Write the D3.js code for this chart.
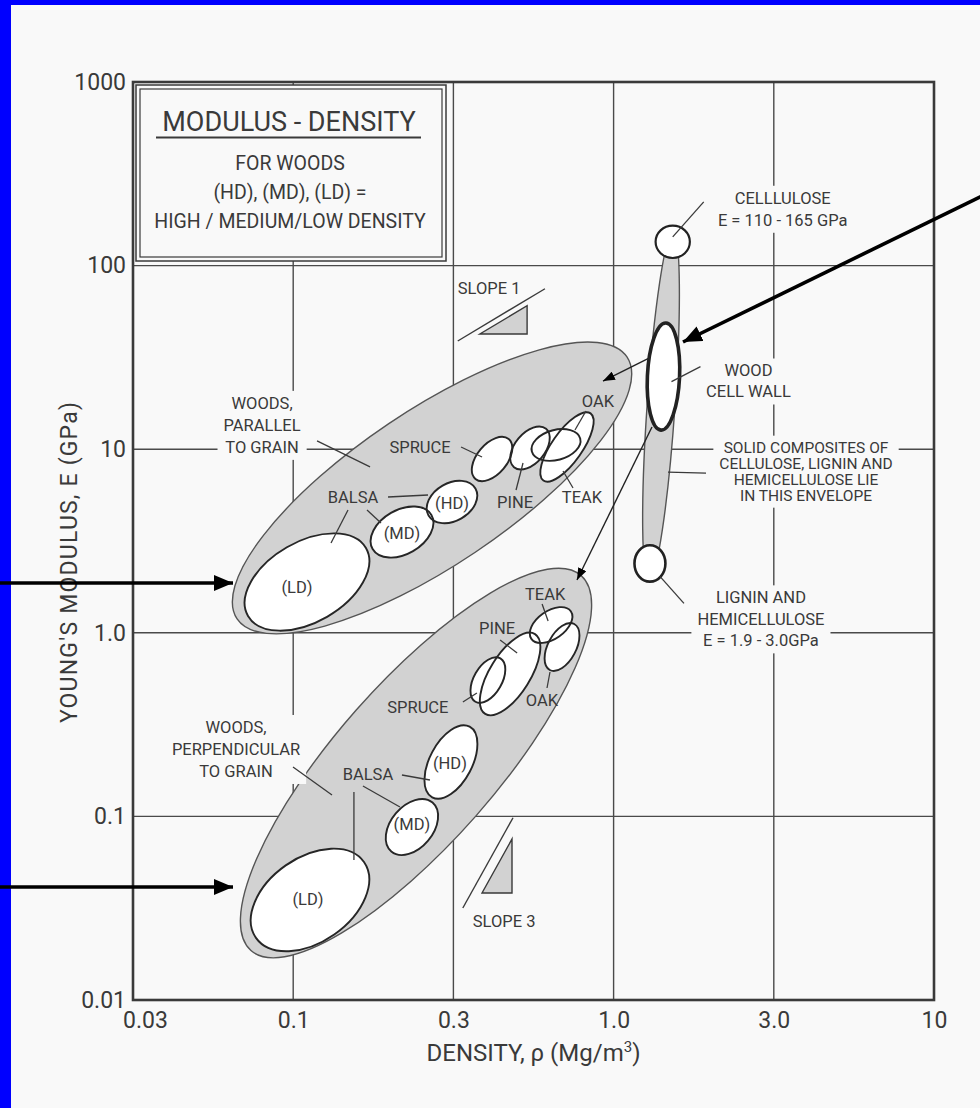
<!DOCTYPE html>
<html>
<head>
<meta charset="utf-8">
<script src="https://cdn.jsdelivr.net/npm/d3@7"></script>
<style>
  html, body { margin: 0; padding: 0; background: #f9f9f9; }
  svg { display: block; }
  text { font-family: Roboto, "Liberation Sans", sans-serif; fill: #3a3a3a; }
</style>
</head>
<body>
<svg id="chart" width="980" height="1108"></svg>
<script>
// ---- Axis ticks -------------------------------------------------------
const densityTicks = [0.03, 0.1, 0.3, 1, 3, 10];
const densityTickLabels = ["0.03", "0.1", "0.3", "1.0", "3.0", "10"];
const modulusTicks = [0.01, 0.1, 1, 10, 100, 1000];
const modulusTickLabels = ["0.01", "0.1", "1.0", "10", "100", "1000"];

// ---- Wood species (same order in both grain directions) ---------------
const woodNames = ["Balsa (LD)", "Balsa (MD)", "Balsa (HD)", "Spruce", "Pine", "Teak", "Oak"];
// each bubble: ends of its long axis as [density Mg/m3, modulus GPa]
const parallelEnds = [
  [[0.0712, 1.234], [0.1647, 2.897]],
  [[0.1724, 2.86], [0.258, 4.38]],
  [[0.253, 4.355], [0.354, 6.11]],
  [[0.354, 6.89], [0.4545, 11.35]],
  [[0.473, 7.98], [0.602, 12.92]],
  [[0.541, 9.72], [0.778, 11.44]],
  [[0.590, 6.75], [0.841, 15.67]]
];
const parallelWidth = [0.59, 0.65, 0.70, 0.58, 0.60, 0.60, 0.37];
const perpendicularEnds = [
  [[0.0756, 0.0218], [0.1625, 0.0564]],
  [[0.196, 0.0644], [0.260, 0.119]],
  [[0.2594, 0.127], [0.339, 0.308]],
  [[0.354, 0.421], [0.427, 0.726]],
  [[0.381, 0.362], [0.554, 0.984]],
  [[0.539, 0.927], [0.725, 1.311]],
  [[0.619, 0.627], [0.744, 1.117]]
];
const perpendicularWidth = [0.64, 0.66, 0.53, 0.56, 0.43, 0.58, 0.54];

// ---- Envelopes ---------------------------------------------------------
const envelopeNames = ["Woods, parallel", "Woods, perpendicular", "Solid composites"];
const envelopeEnds = [
  [[0.0656, 1.19], [1.096, 31.8]],
  [[0.0728, 0.0186], [0.783, 2.05]],
  [[1.275, 1.94], [1.503, 152]]
];
const envelopeWidth = [0.33, 0.32, 0.08];

// ---- Cell-wall constituents --------------------------------------------
const constituentNames = ["Cellulose", "Wood cell wall", "Lignin and hemicellulose"];
const constituentDensity = [[1.5, 1.5], [1.384, 1.432], [1.283, 1.283]];
const constituentModulus = [[110, 165], [12.7, 48.7], [1.9, 3.0]];
const constituentWidth = [1.06, 0.30, 0.85];
const constituentStroke = [2.2, 3.6, 2.6];

// ---- Slope guides --------------------------------------------------------
const slopeValues = [1, 3];
const slopeLineStart = [[0.31, 38.85], [0.322, 0.0317]];
const slopeLineEndDensity = [0.597, 0.4696];
const slopeTriangleBase = [[0.366, 42.4], [0.372, 0.0383]];
const slopeTriangleEndDensity = [0.522, 0.466];

// ---- Layout ----------------------------------------------------------------
const W = 980, H = 1108;
const plot = { left: 133, right: 934, top: 82, bottom: 1000 };
const ink = "#3a3a3a", gridInk = "#4a4a4a", shade = "#d2d2d2", paper = "#f9f9f9";

const svg = d3.select("#chart");
const defs = svg.append("defs");
function marker(id, len, wid) {
  defs.append("marker").attr("id", id)
    .attr("viewBox", `0 0 ${len} ${wid}`).attr("refX", len).attr("refY", wid / 2)
    .attr("markerUnits", "userSpaceOnUse").attr("markerWidth", len).attr("markerHeight", wid)
    .attr("orient", "auto")
    .append("path").attr("d", `M0,0L${len},${wid / 2}L0,${wid}Z`).attr("fill", "#000");
}
marker("bigHead", 19, 16);
marker("smallHead", 12, 9);

svg.append("rect").attr("width", W).attr("height", H).attr("fill", paper);

// Density axis: equally spaced tick marks, log-interpolated in between
const x = d3.scaleLog()
  .domain(densityTicks)
  .range(densityTicks.map((d, i) => plot.left + i * (plot.right - plot.left) / (densityTicks.length - 1)));
const y = d3.scaleLog()
  .domain([modulusTicks[0], modulusTicks[modulusTicks.length - 1]])
  .range([plot.bottom, plot.top]);

// ---- Grid ----------------------------------------------------------------
const grid = svg.append("g").attr("stroke", gridInk).attr("stroke-width", 1.4);
grid.selectAll("line.v").data(densityTicks.slice(1, -1)).join("line")
  .attr("x1", d => x(d)).attr("x2", d => x(d)).attr("y1", plot.top).attr("y2", plot.bottom);
grid.selectAll("line.h").data(modulusTicks.slice(1, -1)).join("line")
  .attr("y1", d => y(d)).attr("y2", d => y(d)).attr("x1", plot.left).attr("x2", plot.right);

// ---- Axes ----------------------------------------------------------------
const xAxis = svg.append("g").attr("transform", `translate(0,${plot.bottom})`)
  .call(d3.axisBottom(x).tickValues(densityTicks)
    .tickFormat((d, i) => densityTickLabels[i]).tickSize(0).tickPadding(12));
xAxis.select(".domain").remove();
xAxis.attr("font-size", 23).attr("font-family", null);
xAxis.selectAll(".tick text").filter((d, i) => i === 0).attr("dx", 12);

const yAxis = svg.append("g").attr("transform", `translate(${plot.left},0)`)
  .call(d3.axisLeft(y).tickValues(modulusTicks)
    .tickFormat((d, i) => modulusTickLabels[i]).tickSize(0).tickPadding(7));
yAxis.select(".domain").remove();
yAxis.attr("font-size", 23).attr("font-family", null);

svg.append("text").attr("x", (plot.left + plot.right) / 2 + 0).attr("y", 1061)
  .attr("text-anchor", "middle").attr("font-size", 24)
  .call(t => {
    t.append("tspan").text("DENSITY, ρ (Mg/m");
    t.append("tspan").attr("font-size", 15).attr("dy", -9).text("3");
    t.append("tspan").attr("dy", 9).text(")");
  });
svg.append("text").attr("transform", "translate(77,562) rotate(-90)")
  .attr("text-anchor", "middle").attr("font-size", 23).attr("letter-spacing", 1.2)
  .text("YOUNG'S MODULUS, E (GPa)");

// ---- Ellipse helpers -----------------------------------------------------
function geom(ends, ratio) {
  const [p, q] = ends.map(([r, e]) => [x(r), y(e)]);
  const cx = (p[0] + q[0]) / 2, cy = (p[1] + q[1]) / 2;
  const a = Math.hypot(q[0] - p[0], q[1] - p[1]) / 2;
  const ang = Math.atan2(q[1] - p[1], q[0] - p[0]) * 180 / Math.PI;
  return { cx, cy, rx: a, ry: a * ratio, ang };
}
function ellipses(g, list) {
  return g.selectAll("ellipse").data(list).join("ellipse")
    .attr("cx", d => d.cx).attr("cy", d => d.cy)
    .attr("rx", d => d.rx).attr("ry", d => d.ry)
    .attr("transform", d => `rotate(${d.ang} ${d.cx} ${d.cy})`);
}

const envGeom = envelopeEnds.map((e, i) => geom(e, envelopeWidth[i]));
const parGeom = parallelEnds.map((e, i) => geom(e, parallelWidth[i]));
const perpGeom = perpendicularEnds.map((e, i) => geom(e, perpendicularWidth[i]));
const conGeom = constituentNames.map((n, i) =>
  geom([[constituentDensity[i][0], constituentModulus[i][0]], [constituentDensity[i][1], constituentModulus[i][1]]], constituentWidth[i]));

// ---- Frame ---------------------------------------------------------------
svg.append("rect").attr("x", plot.left).attr("y", plot.top)
  .attr("width", plot.right - plot.left).attr("height", plot.bottom - plot.top)
  .attr("fill", "none").attr("stroke", ink).attr("stroke-width", 2.6);

// ---- Envelopes and bubbles ---------------------------------------------------
ellipses(svg.append("g").attr("fill", shade).attr("stroke", "#555").attr("stroke-width", 1.4), envGeom);

const bubbleFill = svg.append("g").attr("fill", "#fff").attr("stroke", "none");
ellipses(bubbleFill.append("g"), parGeom);
ellipses(bubbleFill.append("g"), perpGeom);
const bubbleLine = svg.append("g").attr("fill", "none").attr("stroke", "#262626").attr("stroke-width", 1.9);
ellipses(bubbleLine.append("g"), parGeom);
ellipses(bubbleLine.append("g"), perpGeom);

ellipses(svg.append("g").attr("fill", "#fff").attr("stroke", "#222"), conGeom)
  .attr("stroke-width", (d, i) => constituentStroke[i]);

// ---- Slope guides --------------------------------------------------------
const slopeG = svg.append("g");
slopeValues.forEach((s, i) => {
  const [r0, e0] = slopeLineStart[i];
  const r1 = slopeLineEndDensity[i];
  slopeG.append("line")
    .attr("x1", x(r0)).attr("y1", y(e0))
    .attr("x2", x(r1)).attr("y2", y(e0 * Math.pow(r1 / r0, s)))
    .attr("stroke", ink).attr("stroke-width", 1.4);
  const [tr0, te0] = slopeTriangleBase[i];
  const tr1 = slopeTriangleEndDensity[i];
  const pts = [[x(tr0), y(te0)], [x(tr1), y(te0)], [x(tr1), y(te0 * Math.pow(tr1 / tr0, s))]];
  slopeG.append("path").attr("d", d3.line()(pts) + "Z")
    .attr("fill", shade).attr("stroke", ink).attr("stroke-width", 1.4);
});
slopeG.append("text").attr("x", x(slopeLineStart[0][0])).attr("y", y(slopeLineStart[0][1]) - 47)
  .attr("font-size", 16.5).text("SLOPE 1");
slopeG.append("text").attr("x", x(slopeLineStart[1][0]) + 10).attr("y", y(slopeLineStart[1][1]) + 19)
  .attr("font-size", 16.5).text("SLOPE 3");

// ---- Annotations -----------------------------------------------------------
// 'at' is the middle of the first text line, offset from the anchor's centre
const parallelNotes = [
  { anchor: 0, lines: ["(LD)"], at: [-10, 5] },
  { anchor: 1, lines: ["(MD)"], at: [0, 1] },
  { anchor: 2, lines: ["(HD)"], at: [0, 1] },
  { anchor: 1, lines: ["BALSA"], at: [-49, -35], leaders: [[-14, -35, 26, -37], [-35, -22, -21, -9], [-54, -22, -71, 11]] },
  { anchor: 3, lines: ["SPRUCE"], at: [-72, -12], leaders: [[-31, -12, -10, -2]] },
  { anchor: 4, lines: ["PINE"], at: [-15, 54], leaders: [[-14, 42, -7, 15]] },
  { anchor: 5, lines: ["TEAK"], at: [26, 52], leaders: [[17, 43, 7, 26]] },
  { anchor: 6, lines: ["OAK"], at: [31, -46], leaders: [[19, -36, 8, -17]] }
];
const perpendicularNotes = [
  { anchor: 0, lines: ["(LD)"], at: [-2, -1] },
  { anchor: 1, lines: ["(MD)"], at: [0, -3] },
  { anchor: 2, lines: ["(HD)"], at: [-1, 1] },
  { anchor: 1, lines: ["BALSA"], at: [-44, -53], leaders: [[-10, -52, 18, -47], [-49, -41, -12, -20], [-58, -35, -58, 33]] },
  { anchor: 3, lines: ["SPRUCE"], at: [-70, 27], leaders: [[-25, 22, -11, 13]] },
  { anchor: 4, lines: ["PINE"], at: [-13, -46], leaders: [[-10, -34, 7, -21]] },
  { anchor: 5, lines: ["TEAK"], at: [-6, -31], leaders: [[-9, -21, -3, -4]] },
  { anchor: 6, lines: ["OAK"], at: [-20, 53], leaders: [[-15, 41, -12, 25]] }
];
const envelopeNotes = [
  { anchor: 0, lines: ["WOODS,", "PARALLEL", "TO GRAIN"], at: [-170, -85], gap: 22, knock: true,
    leaders: [[-115, -47, -62, -21]] },
  { anchor: 1, lines: ["WOODS,", "PERPENDICULAR", "TO GRAIN"], at: [-180, -36], gap: 22, knock: true,
    leaders: [[-123, 4, -84, 32]] },
  { anchor: 2, lines: ["SOLID COMPOSITES OF", "CELLULOSE, LIGNIN AND", "HEMICELLULOSE LIE", "IN THIS ENVELOPE"],
    at: [145, 41], gap: 16, size: 15.5, knock: true, leaders: [[7, 66, 45, 67]] }
];
const constituentNotes = [
  { anchor: 0, lines: ["CELLLULOSE", "E = 110 - 165 GPa"], at: [110, -44], gap: 22, knock: true,
    leaders: [[31, -40, 0, -5]] },
  { anchor: 1, lines: ["WOOD", "CELL WALL"], at: [85, -6], gap: 21, knock: true, leaders: [[37, -10, 8, 5]] },
  { anchor: 2, lines: ["LIGNIN AND", "HEMICELLULOSE", "E = 1.9 - 3.0GPa"], at: [111, 34], gap: 21.5, knock: true,
    leaders: [[10, 13, 34, 40]] }
];

const noteLayer = svg.append("g");
function annotate(notes, anchors) {
  notes.forEach(n => {
    const c = anchors[n.anchor];
    const g = noteLayer.append("g");
    const size = n.size || 16.5, gap = n.gap || 20;
    const t = g.append("text").attr("text-anchor", "middle").attr("font-size", size);
    n.lines.forEach((s, i) => t.append("tspan")
      .attr("x", c.cx + n.at[0]).attr("y", c.cy + n.at[1] + i * gap + size * 0.36).text(s));
    if (n.knock) {
      const b = t.node().getBBox();
      g.insert("rect", "text").attr("x", b.x - 6).attr("y", b.y - 3)
        .attr("width", b.width + 12).attr("height", b.height + 6).attr("fill", paper);
    }
    (n.leaders || []).forEach(l => g.append("line")
      .attr("x1", c.cx + l[0]).attr("y1", c.cy + l[1]).attr("x2", c.cx + l[2]).attr("y2", c.cy + l[3])
      .attr("stroke", ink).attr("stroke-width", 1.3));
  });
}
annotate(envelopeNotes, envGeom);
annotate(parallelNotes, parGeom);
annotate(perpendicularNotes, perpGeom);
annotate(constituentNotes, conGeom);

// Arrows from the cell wall to the two wood envelopes
const wall = conGeom[1];
[[-14.5, -18.5, -60.5, 4.5], [-11.5, 50.5, -86.5, 203.5]].forEach(a => {
  svg.append("line").attr("x1", wall.cx + a[0]).attr("y1", wall.cy + a[1])
    .attr("x2", wall.cx + a[2]).attr("y2", wall.cy + a[3])
    .attr("stroke", "#222").attr("stroke-width", 1.4).attr("marker-end", "url(#smallHead)");
});

// ---- Legend box ----------------------------------------------------------
const box = svg.append("g");
box.append("rect").attr("x", 136).attr("y", 85).attr("width", 310).attr("height", 176)
  .attr("fill", paper).attr("stroke", ink).attr("stroke-width", 1.5);
box.append("rect").attr("x", 140).attr("y", 89).attr("width", 302).attr("height", 168)
  .attr("fill", "none").attr("stroke", ink).attr("stroke-width", 1.2);
box.append("text").attr("x", 289).attr("y", 131).attr("text-anchor", "middle")
  .attr("font-size", 27).text("MODULUS - DENSITY");
box.append("line").attr("x1", 156).attr("x2", 421).attr("y1", 137.5).attr("y2", 137.5)
  .attr("stroke", ink).attr("stroke-width", 1.8);
["FOR WOODS", "(HD), (MD), (LD) =", "HIGH / MEDIUM/LOW DENSITY"].forEach((s, i) =>
  box.append("text").attr("x", 290).attr("y", 170 + i * 29).attr("text-anchor", "middle")
    .attr("font-size", 19.5).text(s));

// ---- Page edge and pointer arrows ----------------------------------------
svg.append("rect").attr("x", 0).attr("y", 0).attr("width", 11).attr("height", H).attr("fill", "#0000ff");
svg.append("rect").attr("x", 0).attr("y", 0).attr("width", W).attr("height", 5).attr("fill", "#0000ff");
[[0, 583, 233, 583], [0, 887, 233, 887], [982, 196, 683, 342]].forEach(a => {
  svg.append("line").attr("x1", a[0]).attr("y1", a[1]).attr("x2", a[2]).attr("y2", a[3])
    .attr("stroke", "#000").attr("stroke-width", 3.6).attr("marker-end", "url(#bigHead)");
});
</script>
</body>
</html>
